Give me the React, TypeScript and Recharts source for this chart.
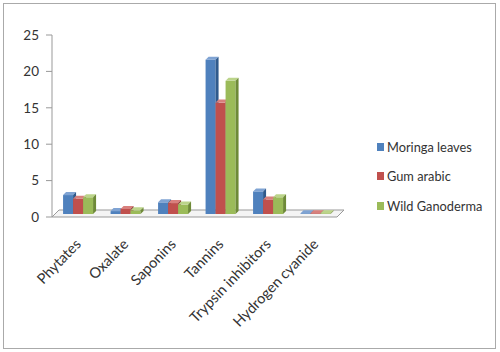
import React from "react";
import { BarChart, Bar, XAxis, YAxis, ReferenceArea } from "recharts";

const categories = ["Phytates", "Oxalate", "Saponins", "Tannins", "Trypsin inhibitors", "Hydrogen cyanide"];
const moringa = [2.6, 0.4, 1.6, 21.2, 3.1, 0.1];
const gumArabic = [2.1, 0.7, 1.5, 15.3, 2.0, 0.1];
const wildGanoderma = [2.3, 0.5, 1.3, 18.3, 2.3, 0.1];
const yTicks = [0, 5, 10, 15, 20, 25];
const boundaryTicks = [0, 1, 2, 3, 4, 5, 6];

const series = [
  { key: "moringa", name: "Moringa leaves", color: "#4F81BD", side: "#2F5A8C", top: "#7FA3D3" },
  { key: "gum", name: "Gum arabic", color: "#C0504D", side: "#8A3331", top: "#D8807D" },
  { key: "wild", name: "Wild Ganoderma", color: "#9BBB59", side: "#6E8A38", top: "#BBD48A" },
];

const data = categories.map((c, i) => ({
  name: c,
  moringa: moringa[i],
  gum: gumArabic[i],
  wild: wildGanoderma[i],
}));

const DEPTH = 3;
const SHIFT = 3;

const make3D = (color: string, side: string, top: string) => (props: any) => {
  const { x, y, width, height } = props;
  if (width == null || height == null) return <g />;
  const fx = x + SHIFT;
  const fy = y - SHIFT;
  const h = Math.max(height, 0.5);
  return (
    <g>
      <rect x={fx} y={fy} width={width} height={h} fill={color} />
      <polygon
        points={`${fx},${fy} ${fx + DEPTH},${fy - DEPTH} ${fx + width + DEPTH},${fy - DEPTH} ${fx + width},${fy}`}
        fill={top}
      />
      <polygon
        points={`${fx + width},${fy} ${fx + width + DEPTH},${fy - DEPTH} ${fx + width + DEPTH},${fy + h - DEPTH} ${fx + width},${fy + h}`}
        fill={side}
      />
    </g>
  );
};

const XTick = (props: any) => {
  const { x, y, payload } = props;
  return (
    <g transform={`translate(${x + 6},${y + 20})`}>
      <text textAnchor="end" transform="rotate(-46)" fontSize={14.5} fill="#333" fontFamily="Lato">
        {payload.value}
      </text>
    </g>
  );
};

const Floor = (props: any) => {
  const { x, y, width, height } = props;
  const by = y + height;
  const d = 7;
  return (
    <path
      d={`M${x},${by} L${x + width},${by} L${x + width + d},${by - d} L${x + d},${by - d} Z`}
      fill="#f4f4f4"
      stroke="#999"
      strokeWidth={1}
    />
  );
};

export default function App() {
  return (
    <div
      style={{
        position: "absolute",
        left: 0,
        top: 0,
        width: 500,
        height: 352,
        background: "#fff",
      }}
    >
      <div
        style={{
          position: "absolute",
          left: 3,
          top: 3,
          width: 491,
          height: 344,
          border: "1.5px solid #aaa",
        }}
      />
      <div style={{ position: "absolute", left: 0, top: 0 }}>
        <BarChart
          width={500}
          height={352}
          data={data}
          margin={{ top: 35, right: 163, left: 0, bottom: 0 }}
          barCategoryGap="17%"
          barGap={0}
          style={{ fontFamily: "Lato" }}
        >
          <XAxis
            xAxisId="grid"
            type="number"
            domain={[0, 6]}
            ticks={boundaryTicks}
            allowDataOverflow
            height={0}
            axisLine={false}
            tickLine={{ stroke: "#999" }}
            tickSize={5}
            tickFormatter={() => ""}
          />
          <XAxis
            xAxisId="cat"
            dataKey="name"
            type="category"
            height={135}
            axisLine={false}
            tickLine={false}
            interval={0}
            tick={<XTick />}
          />
          <YAxis
            domain={[0, 25]}
            ticks={yTicks}
            interval={0}
            width={52}
            axisLine={{ stroke: "#999" }}
            tickLine={{ stroke: "#999" }}
            tickSize={6}
            tick={{ fill: "#333", fontSize: 13.5, fontFamily: "Lato" }}
            tickMargin={7}
          />
          <ReferenceArea xAxisId="cat" y1={0} y2={0.01} ifOverflow="visible" shape={<Floor />} />
          {series.map((s) => (
            <Bar
              key={s.key}
              xAxisId="cat"
              dataKey={s.key}
              name={s.name}
              fill={s.color}
              isAnimationActive={false}
              shape={make3D(s.color, s.side, s.top)}
            />
          ))}
        </BarChart>
      </div>
      <div
        style={{
          position: "absolute",
          left: 377,
          top: 132,
          fontFamily: "Lato",
          fontSize: 12.8,
          color: "#333",
        }}
      >
        {series.map((s) => (
          <div key={s.key} style={{ display: "flex", alignItems: "center", height: 29.5 }}>
            <span style={{ display: "inline-block", width: 7, height: 8, background: s.color, marginRight: 3 }} />
            <span>{s.name}</span>
          </div>
        ))}
      </div>
    </div>
  );
}
